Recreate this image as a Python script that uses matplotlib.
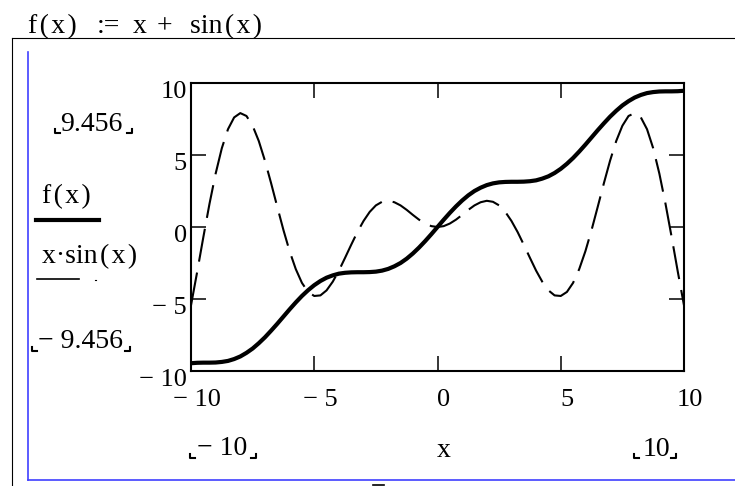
import matplotlib
matplotlib.use("Agg")
import matplotlib.pyplot as plt
from matplotlib.lines import Line2D
from matplotlib.transforms import ScaledTranslation

plt.rcParams["lines.scale_dashes"] = False

W, H = 735, 486
SERIF = ["Liberation Serif", "DejaVu Serif"]
FS = 19
HS = "\u200a"  # hair space, Mathcad pads its parentheses a little

# ---------------------------------------------------------------------------
# Data (x every 0.25 from -10 to 10)
# ---------------------------------------------------------------------------
x_vals = [
    -10.0, -9.75, -9.5, -9.25, -9.0, -8.75, -8.5, -8.25, -8.0, -7.75,
    -7.5, -7.25, -7.0, -6.75, -6.5, -6.25, -6.0, -5.75, -5.5, -5.25,
    -5.0, -4.75, -4.5, -4.25, -4.0, -3.75, -3.5, -3.25, -3.0, -2.75,
    -2.5, -2.25, -2.0, -1.75, -1.5, -1.25, -1.0, -0.75, -0.5, -0.25,
    0.0, 0.25, 0.5, 0.75, 1.0, 1.25, 1.5, 1.75, 2.0, 2.25,
    2.5, 2.75, 3.0, 3.25, 3.5, 3.75, 4.0, 4.25, 4.5, 4.75,
    5.0, 5.25, 5.5, 5.75, 6.0, 6.25, 6.5, 6.75, 7.0, 7.25,
    7.5, 7.75, 8.0, 8.25, 8.5, 8.75, 9.0, 9.25, 9.5, 9.75, 10.0,
]
f_vals = [
    -9.46, -9.43, -9.42, -9.42, -9.41, -9.37, -9.30, -9.17, -8.99, -8.74,
    -8.44, -8.07, -7.66, -7.20, -6.72, -6.22, -5.72, -5.24, -4.79, -4.39,
    -4.04, -3.75, -3.52, -3.36, -3.24, -3.18, -3.15, -3.14, -3.14, -3.13,
    -3.10, -3.03, -2.91, -2.73, -2.50, -2.20, -1.84, -1.43, -0.98, -0.50,
    0.00, 0.50, 0.98, 1.43, 1.84, 2.20, 2.50, 2.73, 2.91, 3.03,
    3.10, 3.13, 3.14, 3.14, 3.15, 3.18, 3.24, 3.36, 3.52, 3.75,
    4.04, 4.39, 4.79, 5.24, 5.72, 6.22, 6.72, 7.20, 7.66, 8.07,
    8.44, 8.74, 8.99, 9.17, 9.30, 9.37, 9.41, 9.42, 9.42, 9.43, 9.46,
]
g_vals = [
    -5.44, -3.12, -0.71, 1.61, 3.71, 5.47, 6.79, 7.61, 7.91, 7.71,
    7.03, 5.97, 4.60, 3.04, 1.40, -0.21, -1.68, -2.92, -3.88, -4.51,
    -4.79, -4.75, -4.40, -3.80, -3.03, -2.14, -1.23, -0.35, 0.42, 1.05,
    1.50, 1.75, 1.82, 1.72, 1.50, 1.19, 0.84, 0.51, 0.24, 0.06,
    0.00, 0.06, 0.24, 0.51, 0.84, 1.19, 1.50, 1.72, 1.82, 1.75,
    1.50, 1.05, 0.42, -0.35, -1.23, -2.14, -3.03, -3.80, -4.40, -4.75,
    -4.79, -4.51, -3.88, -2.92, -1.68, -0.21, 1.40, 3.04, 4.60, 5.97,
    7.03, 7.71, 7.91, 7.61, 6.79, 5.47, 3.71, 1.61, -0.71, -3.12, -5.44,
]

ticks = [-10, -5, 0, 5, 10]
tick_labels = ["\u2212 10", "\u2212 5", "0", "5", "10"]

fig = plt.figure(figsize=(W / 100, H / 100), dpi=100)
fig.patch.set_facecolor("white")


def fx(p):
    return p / W


def fy(p):
    return 1 - p / H


def line(xs, ys, **kw):
    fig.add_artist(Line2D([fx(v) for v in xs], [fy(v) for v in ys], **kw))


def txt(xp, yp, s, size=FS, **kw):
    fig.text(fx(xp), fy(yp), s, fontsize=size, family=SERIF, va="baseline", **kw)


def corner(xp, yp, left=True):
    d = 5 if left else -5
    line([xp, xp, xp + d], [yp - 4, yp, yp], color="black", lw=1.5)


# ── Plot region ─────────────────────────────────────────────────────────
ax = fig.add_axes([fx(191), fy(371), (684 - 191) / W, (371 - 83) / H])
ax.plot(x_vals, f_vals, color="black", lw=3.0)
dash, = ax.plot(x_vals, g_vals, color="black", lw=1.5)
dash.set_dashes([24, 8])
ax.set_xlim(-10, 10)
ax.set_ylim(-10, 10)
ax.set_xticks(ticks)
ax.set_yticks(ticks)
ax.set_xticklabels(tick_labels, family=SERIF, fontsize=FS)
ax.set_yticklabels(tick_labels, family=SERIF, fontsize=FS)
ax.tick_params(direction="in", length=11, width=1.1, top=True, right=True)
ax.tick_params(axis="y", pad=3)
ax.tick_params(axis="x", pad=13)
for s in ax.spines.values():
    s.set_linewidth(1.5)
for lab in ax.get_xticklabels():
    lab.set_transform(lab.get_transform() + ScaledTranslation(6 / 100, 0, fig.dpi_scale_trans))
for lab in ax.get_yticklabels():
    lab.set_transform(lab.get_transform() + ScaledTranslation(0, -6 / 100, fig.dpi_scale_trans))

# ── Worksheet frame ─────────────────────────────────────────────────────
line([12, W], [38, 38], color="black", lw=0.8)
line([12, 12], [38, H], color="black", lw=0.8)
line([28, 28], [52, 480], color="#4040ff", lw=1.2)
line([28, W], [480, 480], color="#4040ff", lw=1.2)
line([373, 384], [485, 485], color="black", lw=1.2)

# ── Definition above the plot ───────────────────────────────────────────
txt(28, 33, HS.join("f(x)"), size=20)
txt(97, 33, ":=", size=20)
txt(133, 33, "x", size=20)
txt(157, 33, "+", size=20)
txt(190, 33, "sin" + HS + HS.join("(x)"), size=20)

# ── Legend ──────────────────────────────────────────────────────────────
txt(42, 203, HS.join("f(x)"), size=20)
line([36, 99], [220, 220], color="black", lw=3.0)
txt(42, 263, "x\u00b7sin" + HS + HS.join("(x)"), size=20)
line([37, 79], [279, 279], color="black", lw=1.2)
line([95, 96], [280, 280], color="black", lw=0.8)

# ── Axis limit placeholders ─────────────────────────────────────────────
txt(60, 131, "9.456", size=20)
corner(55, 133, True)
corner(132, 133, False)
txt(38, 348, "\u2212 9.456", size=20)
corner(32, 351, True)
corner(130, 351, False)
txt(197, 455, "\u2212 10", size=20)
corner(190, 458, True)
corner(256, 458, False)
txt(444, 457, "x", size=20, ha="center")
txt(643, 456, "10", size=20)
corner(634, 458, True)
corner(676, 458, False)

fig.savefig("out.png", dpi=100)
